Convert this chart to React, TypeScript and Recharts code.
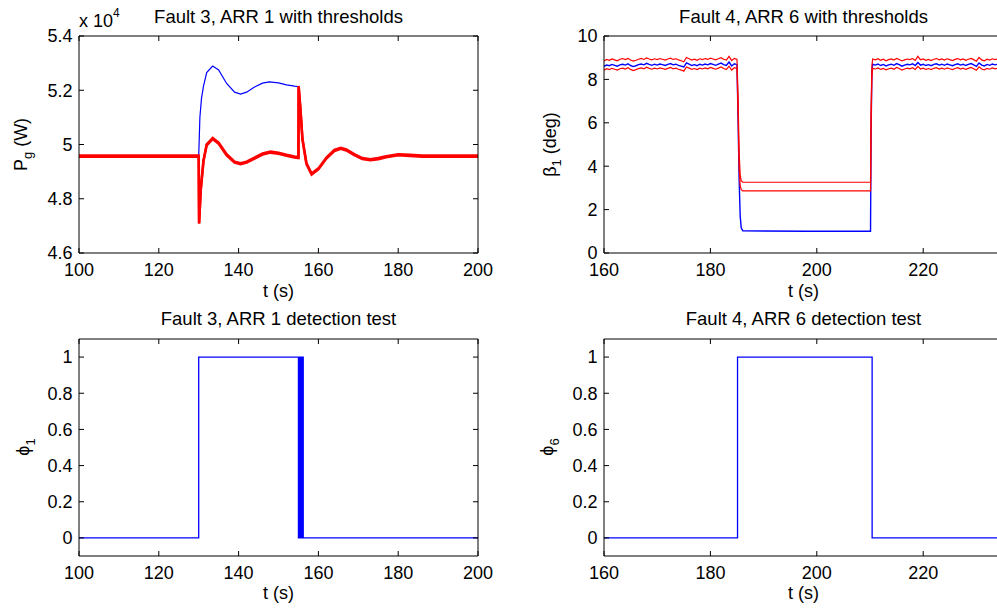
import { LineChart, Line, XAxis, YAxis } from "recharts";

const FONT = '"Liberation Sans", Arial, Helvetica, sans-serif';
const W = 1020;
const H = 608;
const YW = 60; // left axis band
const XH = 40; // bottom axis band
const MW = 10; // mirrored (top / right) axis band

// ---- Fault 3, ARR 1 with thresholds (P_g in units of 10^4 W)
const pgSignalTime = [100, 130, 130.3, 130.7, 131.2, 132, 133.5, 135, 137, 139, 140.5, 142, 144, 146, 147.7, 150, 152, 154, 155.05, 155.5, 156, 157, 158.3, 160, 162, 164, 165.6, 167, 169, 171, 173, 175, 177, 180, 183, 186, 200];
const pgSignal = [4.957, 4.957, 5.1, 5.17, 5.215, 5.265, 5.289, 5.275, 5.225, 5.193, 5.186, 5.193, 5.212, 5.226, 5.231, 5.227, 5.22, 5.215, 5.213, 5.13, 5.02, 4.93, 4.891, 4.91, 4.95, 4.978, 4.986, 4.98, 4.963, 4.948, 4.944, 4.948, 4.955, 4.962, 4.96, 4.957, 4.957];
const pgThrTime = [100, 130, 130.1, 130.5, 131.2, 132, 133.5, 135, 137, 139, 140.5, 142, 144, 146, 148, 150, 152, 154, 155, 155.05, 155.5, 156, 157, 158.3, 160, 162, 164, 165.6, 167, 169, 171, 173, 175, 177, 180, 183, 186, 200];
const pgUpper = [4.959, 4.959, 4.711, 4.833, 4.942, 5.001, 5.024, 5.007, 4.964, 4.937, 4.931, 4.937, 4.952, 4.967, 4.974, 4.97, 4.962, 4.956, 4.954, 5.216, 5.132, 5.022, 4.932, 4.893, 4.912, 4.952, 4.98, 4.988, 4.982, 4.965, 4.95, 4.946, 4.95, 4.957, 4.964, 4.962, 4.959, 4.959];
const pgLower = [4.955, 4.955, 4.708, 4.829, 4.938, 4.997, 5.02, 5.003, 4.96, 4.933, 4.927, 4.933, 4.948, 4.963, 4.97, 4.966, 4.958, 4.952, 4.95, 5.212, 5.128, 5.018, 4.928, 4.889, 4.908, 4.948, 4.976, 4.984, 4.978, 4.961, 4.946, 4.942, 4.946, 4.953, 4.96, 4.958, 4.955, 4.955];
const pgTicksX = [100, 120, 140, 160, 180, 200];
const pgTicksY = [4.6, 4.8, 5, 5.2, 5.4];

// ---- Fault 4, ARR 6 with thresholds (beta_1 in deg)
const betaTime = [
  160, 160.5, 161, 161.5, 162, 162.5, 163, 163.5, 164, 164.5, 165, 165.5, 166, 166.5, 167, 167.5, 168, 168.5, 169, 169.5,
  170, 170.5, 171, 171.5, 172, 172.5, 173, 173.5, 174, 174.5, 175, 175.5, 176, 176.5, 177, 177.5, 178, 178.5, 179, 179.5,
  180, 180.5, 181, 181.5, 182, 182.5, 183, 183.5, 184, 184.5,
  185, 185.2, 185.4, 185.6, 185.8, 186.1, 198, 210.1, 210.2, 210.35, 210.5,
  211, 211.5, 212, 212.5, 213, 213.5, 214, 214.5, 215, 215.5, 216, 216.5, 217, 217.5, 218, 218.5, 219, 219.5, 220, 220.5,
  221, 221.5, 222, 222.5, 223, 223.5, 224, 224.5, 225, 225.5, 226, 226.5, 227, 227.5, 228, 228.5, 229, 229.5, 230, 230.5,
  231, 231.5, 232, 232.5, 233, 233.5, 234, 234.5, 235,
];
const betaSignal = [
  8.6, 8.66, 8.63, 8.69, 8.65, 8.61, 8.67, 8.7, 8.66, 8.72, 8.64, 8.59, 8.63, 8.68, 8.71, 8.67, 8.74, 8.69, 8.65, 8.7,
  8.66, 8.71, 8.68, 8.64, 8.69, 8.73, 8.67, 8.7, 8.65, 8.61, 8.57, 8.76, 8.7, 8.64, 8.68, 8.63, 8.7, 8.66, 8.71, 8.67,
  8.73, 8.69, 8.65, 8.7, 8.75, 8.68, 8.64, 8.8, 8.62, 8.72,
  8.68, 6.2, 3.4, 1.7, 1.15, 1.02, 1.0, 1.0, 5.5, 8.3, 8.7,
  8.66, 8.71, 8.64, 8.69, 8.62, 8.67, 8.7, 8.65, 8.73, 8.68, 8.61, 8.66, 8.7, 8.67, 8.72, 8.64, 8.78, 8.66, 8.7, 8.64,
  8.68, 8.63, 8.69, 8.72, 8.66, 8.7, 8.65, 8.71, 8.67, 8.63, 8.68, 8.72, 8.66, 8.7, 8.64, 8.69, 8.73, 8.67, 8.6, 8.76,
  8.66, 8.62, 8.69, 8.65, 8.71, 8.67, 8.7, 8.66, 8.69,
];
const betaUpper = [
  8.85, 8.92, 8.88, 8.94, 8.9, 8.86, 8.93, 8.96, 8.91, 8.97, 8.89, 8.84, 8.88, 8.93, 8.97, 8.92, 8.99, 8.94, 8.9, 8.95,
  8.91, 8.96, 8.93, 8.89, 8.94, 8.98, 8.92, 8.95, 8.9, 8.86, 8.81, 9.01, 8.95, 8.89, 8.93, 8.88, 8.95, 8.91, 8.96, 8.92,
  8.98, 8.94, 8.9, 8.95, 9.0, 8.93, 8.89, 9.06, 8.87, 8.97,
  8.92, 7.2, 4.6, 3.6, 3.32, 3.26, 3.26, 3.26, 6.5, 8.6, 8.94,
  8.9, 8.95, 8.88, 8.93, 8.86, 8.91, 8.94, 8.89, 8.97, 8.92, 8.85, 8.9, 8.94, 8.91, 8.96, 8.88, 9.06, 8.9, 8.94, 8.88,
  8.92, 8.87, 8.93, 8.96, 8.9, 8.94, 8.89, 8.95, 8.91, 8.87, 8.92, 8.96, 8.9, 8.94, 8.88, 8.93, 8.97, 8.91, 8.84, 9.01,
  8.9, 8.86, 8.93, 8.89, 8.95, 8.91, 8.94, 8.9, 8.93,
];
const betaLower = [
  8.42, 8.49, 8.45, 8.51, 8.47, 8.43, 8.49, 8.52, 8.48, 8.54, 8.46, 8.41, 8.45, 8.5, 8.53, 8.49, 8.56, 8.51, 8.47, 8.52,
  8.48, 8.53, 8.5, 8.46, 8.51, 8.55, 8.49, 8.52, 8.47, 8.43, 8.38, 8.57, 8.52, 8.46, 8.5, 8.45, 8.52, 8.48, 8.53, 8.49,
  8.55, 8.51, 8.47, 8.52, 8.57, 8.5, 8.45, 8.61, 8.43, 8.54,
  8.5, 6.4, 3.9, 3.1, 2.92, 2.86, 2.86, 2.86, 5.9, 8.1, 8.51,
  8.48, 8.53, 8.46, 8.51, 8.44, 8.49, 8.52, 8.47, 8.55, 8.5, 8.43, 8.48, 8.52, 8.49, 8.54, 8.46, 8.6, 8.48, 8.52, 8.46,
  8.5, 8.45, 8.51, 8.54, 8.48, 8.52, 8.47, 8.53, 8.49, 8.45, 8.5, 8.54, 8.48, 8.52, 8.46, 8.51, 8.55, 8.49, 8.42, 8.58,
  8.48, 8.44, 8.51, 8.47, 8.53, 8.49, 8.52, 8.48, 8.51,
];
const betaTicksX = [160, 180, 200, 220];
const betaTicksY = [0, 2, 4, 6, 8, 10];

// ---- detection tests
const phi1Time = [100, 130, 130, 155, 155, 155.2, 155.2, 155.4, 155.4, 155.6, 155.6, 155.8, 155.8, 156, 156, 156.2, 156.2, 200];
const phi1 = [0, 0, 1, 1, 0, 0, 1, 1, 0, 0, 1, 1, 0, 0, 1, 1, 0, 0];
const phi6Time = [160, 185.1, 185.1, 210.4, 210.4, 235];
const phi6 = [0, 0, 1, 1, 0, 0];
const phiTicksY = [0, 0.2, 0.4, 0.6, 0.8, 1];

const zip = (t: number[], v: number[]) => t.map((x, i) => ({ t: x, v: v[i] }));

type Box = { left: number; right: number; top: number; bottom: number };
type Series = { data: { t: number; v: number }[]; color: string; width: number };

const tickStyle = { fill: "#000", fontSize: 18, fontFamily: FONT };
const blank = () => "";
const axisStroke = { stroke: "#000", strokeWidth: 1 };

const Panel = ({ box, xDomain, xTicks, yDomain, yTicks, series }: {
  box: Box; xDomain: [number, number]; xTicks: number[]; yDomain: [number, number]; yTicks: number[]; series: Series[];
}) => (
  <div style={{ position: "absolute", left: 0, top: 0 }}>
    <LineChart
      width={W}
      height={H}
      margin={{ left: box.left - YW, top: box.top - MW, right: W - box.right - MW, bottom: H - box.bottom - XH }}
    >
      <XAxis xAxisId="b" dataKey="t" type="number" domain={xDomain} ticks={xTicks} allowDataOverflow interval={0}
        height={XH} tickSize={-5} tickMargin={15} axisLine={axisStroke} tickLine={axisStroke} tick={tickStyle} />
      <XAxis xAxisId="t" orientation="top" dataKey="t" type="number" domain={xDomain} ticks={xTicks} allowDataOverflow interval={0}
        height={MW} tickSize={-5} axisLine={axisStroke} tickLine={axisStroke} tickFormatter={blank} />
      <YAxis yAxisId="l" type="number" domain={yDomain} ticks={yTicks} allowDataOverflow interval={0}
        width={YW} tickSize={-5} tickMargin={11.5} axisLine={axisStroke} tickLine={axisStroke} tick={tickStyle} />
      <YAxis yAxisId="r" orientation="right" type="number" domain={yDomain} ticks={yTicks} allowDataOverflow interval={0}
        width={MW} tickSize={-5} axisLine={axisStroke} tickLine={axisStroke} tickFormatter={blank} />
      {series.map((s, i) => (
        <Line key={i} xAxisId="b" yAxisId="l" data={s.data} dataKey="v" type="linear" stroke={s.color}
          strokeWidth={s.width} dot={false} activeDot={false} isAnimationActive={false} />
      ))}
    </LineChart>
  </div>
);

const BLUE = "#0000ff";
const RED = "#ff0000";

export default function App() {
  const txt = { fontFamily: FONT, fontSize: 18, fill: "#000" } as const;
  const ttl = { ...txt, fontSize: 18.5 };
  return (
    <div style={{ position: "absolute", left: 0, top: 0, width: 997, height: 608, overflow: "hidden", background: "#fff" }}>
      <Panel
        box={{ left: 79, right: 478, top: 36, bottom: 253 }}
        xDomain={[100, 200]} xTicks={pgTicksX} yDomain={[4.6, 5.4]} yTicks={pgTicksY}
        series={[
          { data: zip(pgSignalTime, pgSignal), color: BLUE, width: 1.2 },
          { data: zip(pgThrTime, pgUpper), color: RED, width: 2.5 },
          { data: zip(pgThrTime, pgLower), color: RED, width: 2.5 },
        ]}
      />
      <Panel
        box={{ left: 604, right: 1003, top: 36, bottom: 253 }}
        xDomain={[160, 235]} xTicks={betaTicksX} yDomain={[0, 10]} yTicks={betaTicksY}
        series={[
          { data: zip(betaTime, betaSignal), color: BLUE, width: 1.4 },
          { data: zip(betaTime, betaUpper), color: RED, width: 1.2 },
          { data: zip(betaTime, betaLower), color: RED, width: 1.2 },
        ]}
      />
      <Panel
        box={{ left: 79, right: 478, top: 339, bottom: 556 }}
        xDomain={[100, 200]} xTicks={pgTicksX} yDomain={[-0.1, 1.1]} yTicks={phiTicksY}
        series={[{ data: zip(phi1Time, phi1), color: BLUE, width: 1.3 }]}
      />
      <Panel
        box={{ left: 604, right: 1003, top: 339, bottom: 556 }}
        xDomain={[160, 235]} xTicks={betaTicksX} yDomain={[-0.1, 1.1]} yTicks={phiTicksY}
        series={[{ data: zip(phi6Time, phi6), color: BLUE, width: 1.3 }]}
      />
      <svg width={997} height={608} style={{ position: "absolute", left: 0, top: 0, pointerEvents: "none" }}>
        <text {...ttl} x={278.5} y={23} textAnchor="middle">Fault 3, ARR 1 with thresholds</text>
        <text {...ttl} x={803.5} y={23} textAnchor="middle">Fault 4, ARR 6 with thresholds</text>
        <text {...ttl} x={278.5} y={325} textAnchor="middle">Fault 3, ARR 1 detection test</text>
        <text {...ttl} x={803.5} y={325} textAnchor="middle">Fault 4, ARR 6 detection test</text>
        <text {...txt} x={278.5} y={297} textAnchor="middle">t (s)</text>
        <text {...txt} x={803.5} y={297} textAnchor="middle">t (s)</text>
        <text {...txt} x={278.5} y={599} textAnchor="middle">t (s)</text>
        <text {...txt} x={803.5} y={599} textAnchor="middle">t (s)</text>
        <text {...txt} x={79} y={27}>x 10<tspan fontSize={12} dy={-10}>4</tspan></text>
        <text {...txt} transform="translate(27,144.5) rotate(-90)" textAnchor="middle">
          P<tspan fontSize={13} dy={5}>g</tspan><tspan dy={-5}> (W)</tspan>
        </text>
        <text {...txt} transform="translate(556,144.5) rotate(-90)" textAnchor="middle">
          β<tspan fontSize={13} dy={5}>1</tspan><tspan dy={-5}> (deg)</tspan>
        </text>
        <text {...txt} transform="translate(29,447) rotate(-90)" textAnchor="middle">
          ϕ<tspan fontSize={13} dy={6}>1</tspan>
        </text>
        <text {...txt} transform="translate(553,447) rotate(-90)" textAnchor="middle">
          ϕ<tspan fontSize={13} dy={6}>6</tspan>
        </text>
      </svg>
    </div>
  );
}
